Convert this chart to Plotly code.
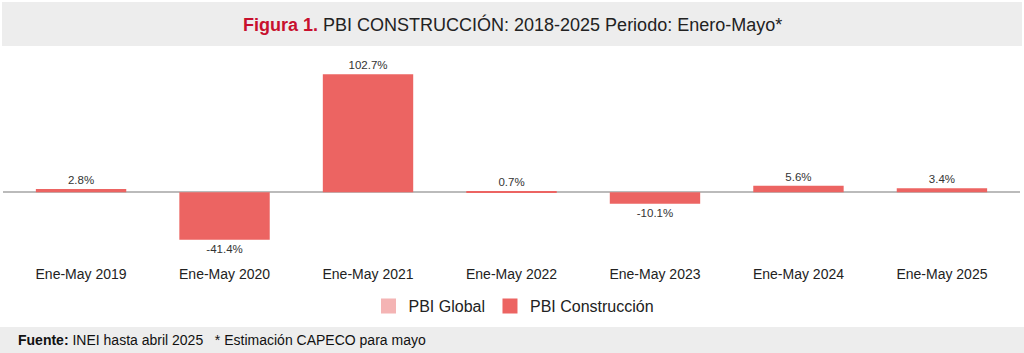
import plotly.graph_objects as go

categories = ["Ene-May 2019", "Ene-May 2020", "Ene-May 2021", "Ene-May 2022",
              "Ene-May 2023", "Ene-May 2024", "Ene-May 2025"]
pbi_construccion = [2.8, -41.4, 102.7, 0.7, -10.1, 5.6, 3.4]
pbi_global = [None] * 7
labels = [f"{v:.1f}%" for v in pbi_construccion]

W, H = 1024, 353
ML, MR, MT, MB = 3, 4, 52, 93
PH = H - MT - MB
PW = W - ML - MR

def py(pix):
    return (H - MB - pix) / PH

def px(pix):
    return (pix - ML) / PW

COL_GLOBAL = "#F4B4B4"
COL_CONST = "#EC6462"
FONT = "Arial, Liberation Sans, sans-serif"

fig = go.Figure()
fig.add_trace(go.Bar(
    x=categories, y=pbi_global, name="PBI Global", showlegend=False,
    marker=dict(color=COL_GLOBAL), width=0.63,
))
fig.add_trace(go.Bar(
    x=categories, y=pbi_construccion, name="PBI Construcción", showlegend=False,
    marker=dict(color=COL_CONST, line=dict(width=0)), width=0.63,
    text=labels, textposition="outside", cliponaxis=False,
    textfont=dict(family=FONT, size=11.5, color="#333333"),
))
# legend entries (square symbols sized like the reference)
fig.add_trace(go.Scatter(x=[None], y=[None], mode="markers", name="PBI Global",
                         marker=dict(symbol="square", size=15, color=COL_GLOBAL)))
fig.add_trace(go.Scatter(x=[None], y=[None], mode="markers", name="PBI Construcción",
                         marker=dict(symbol="square", size=15, color=COL_CONST)))

shapes = [
    dict(type="rect", xref="paper", yref="paper", x0=px(2), x1=px(1022), y0=py(2), y1=py(46),
         fillcolor="#EDEDED", line=dict(width=0), layer="below"),
    dict(type="rect", xref="paper", yref="paper", x0=px(0), x1=px(1024), y0=py(327), y1=py(353),
         fillcolor="#EDEDED", line=dict(width=0), layer="below"),
]

annotations = [
    dict(xref="paper", yref="paper", x=px(512), y=py(24), xanchor="center", yanchor="middle",
         showarrow=False,
         text="<b><span style='color:#C8102E'>Figura 1.</span></b> PBI CONSTRUCCIÓN: 2018-2025 Periodo: Enero-Mayo*",
         font=dict(family="Liberation Sans Narrow, Arial Narrow, Arial, sans-serif", size=18, color="#222222")),
    dict(xref="paper", yref="paper", x=px(16), y=py(340), xanchor="left", yanchor="middle",
         showarrow=False,
         text="<b>Fuente:</b> INEI hasta abril 2025\u00a0\u00a0\u00a0* Estimación CAPECO para mayo",
         font=dict(family=FONT, size=14, color="#111111")),
]

fig.update_layout(
    width=W, height=H,
    margin=dict(l=ML, r=MR, t=MT, b=MB),
    paper_bgcolor="white", plot_bgcolor="white",
    barmode="overlay",
    showlegend=True,
    legend=dict(orientation="h", x=px(514), xanchor="center", y=py(306), yanchor="middle",
                font=dict(family=FONT, size=16, color="#222222"),
                itemsizing="trace", bgcolor="rgba(0,0,0,0)"),
    shapes=shapes, annotations=annotations,
    xaxis=dict(range=[-0.544, 6.544], showgrid=False, showline=False, ticks="",
               tickfont=dict(family=FONT, size=14, color="#222222"),
               ticklabelstandoff=4),
    yaxis=dict(range=[-59, 122], showgrid=False, showticklabels=False, zeroline=True,
               zerolinecolor="#BBBBBB", zerolinewidth=1.5, showline=False),
)

fig.write_html("out.html")
